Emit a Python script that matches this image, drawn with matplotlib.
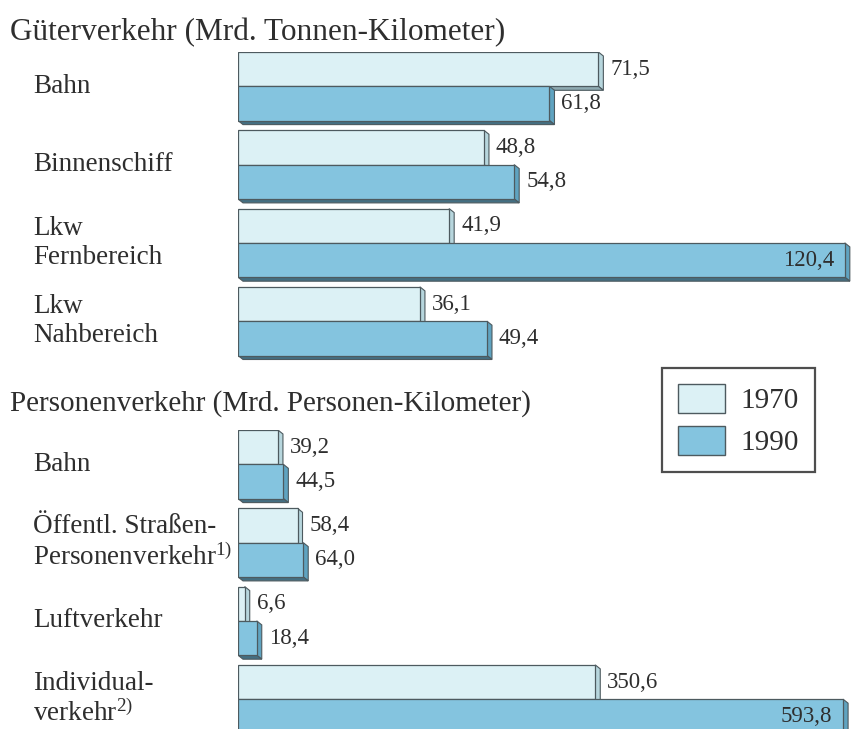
import matplotlib
matplotlib.use('Agg')
import matplotlib.pyplot as plt
from matplotlib.patches import Polygon, Patch

plt.rcParams['font.family'] = ['Liberation Serif', 'DejaVu Serif']
plt.rcParams['mathtext.fontset'] = 'custom'
plt.rcParams['mathtext.rm'] = 'Liberation Serif'
plt.rcParams['mathtext.it'] = 'Liberation Serif:italic'

# ---------------- data ----------------
years = ['1970', '1990']

freight_title = 'Güterverkehr (Mrd. Tonnen-Kilometer)'
freight_cats = ['Bahn', 'Binnenschiff', 'Lkw\nFernbereich', 'Lkw\nNahbereich']
freight_1970 = [71.5, 48.8, 41.9, 36.1]
freight_1990 = [61.8, 54.8, 120.4, 49.4]

pass_title = 'Personenverkehr (Mrd. Personen-Kilometer)'
pass_cats = ['Bahn', 'Öffentl. Straßen-\nPersonenverkehr$^{1)}$', 'Luftverkehr',
             'Individual-\nverkehr$^{2)}$']
pass_1970 = [39.2, 58.4, 6.6, 350.6]
pass_1990 = [44.5, 64.0, 18.4, 593.8]

# ---------------- style ----------------
W, H = 851, 729
TXT = '#2e2e2e'
EDGE = '#4d5a5f'
FRONT = ['#dcf1f5', '#84c4df']
SIDE = ['#b7d6dd', '#5fa3c0']
BOTTOM = ['#8eaab1', '#446f82']
DEPTH_X, DEPTH_Y = 5.0, 4.0     # px
BAR_PX = 34.3
GROUP = 78.3 / 34.3

fig = plt.figure(figsize=(W / 100, H / 100), dpi=100)
fig.patch.set_facecolor('white')


def make_axes(top_px, bottom_px, px_per_unit):
    ax = fig.add_axes([238 / W, 1 - bottom_px / H, (W - 238) / W, (bottom_px - top_px) / H])
    ax.set_xlim(0, (W - 238) / px_per_unit)
    ax.set_ylim((bottom_px - top_px) / BAR_PX, 0)
    ax.axis('off')
    return ax, 1.0 / px_per_unit, 1.0 / BAR_PX


def draw_section(ax, sx, sy, cats, v70, v90, fs_val):
    for i, cat in enumerate(cats):
        base = i * GROUP
        for k, vals in enumerate([v70, v90]):
            v = vals[i]
            y0 = base + k
            y1 = y0 + 1
            dx, dy = DEPTH_X * sx, DEPTH_Y * sy
            z = 2 + 2 * i + k
            side = Polygon([(v, y0), (v + dx, y0 + dy), (v + dx, y1 + dy), (v, y1)],
                           closed=True, facecolor=SIDE[k], edgecolor=EDGE, lw=0.8, zorder=z)
            bottom = Polygon([(0, y1), (v, y1), (v + dx, y1 + dy), (dx, y1 + dy)],
                             closed=True, facecolor=BOTTOM[k], edgecolor=EDGE, lw=0.8, zorder=z)
            ax.add_patch(side)
            ax.add_patch(bottom)
            ax.barh(y0 + 0.5, v, height=1.0, left=0, color=FRONT[k], edgecolor=EDGE,
                    lw=0.9, zorder=z + 0.5)
            label = f'{v:.1f}'.replace('.', ',')
            xmax = ax.get_xlim()[1]
            if v > 0.9 * xmax:
                ax.annotate(label, (v, y0 + 0.5), xytext=(-11 * 0.72, 0),
                            textcoords='offset points', ha='right', va='center',
                            fontsize=fs_val, color=TXT, zorder=20)
            else:
                ax.annotate(label, (v, y0 + 0.5), xytext=(12 * 0.72, 0),
                            textcoords='offset points', ha='left', va='center',
                            fontsize=fs_val, color=TXT, zorder=20)


# freight
ax1, sx1, sy1 = make_axes(52, 365, 5.04)
draw_section(ax1, sx1, sy1, freight_cats, freight_1970, freight_1990, 16.5)
# passenger
ax2, sx2, sy2 = make_axes(430, H, 1.019)
draw_section(ax2, sx2, sy2, pass_cats, pass_1970, pass_1990, 16.5)

# titles
fig.text(10 / W, 1 - 33 / H, freight_title, fontsize=22.5, color=TXT, ha='left', va='center')
fig.text(10 / W, 1 - 404 / H, pass_title, fontsize=21, color=TXT, ha='left', va='center')

# category labels
def cat_labels(ax, cats):
    for i, cat in enumerate(cats):
        yc = i * GROUP + 1.0
        ax.text(-(238 - 33) / (W - 238) * ax.get_xlim()[1], yc, cat, fontsize=19.5, color=TXT,
                ha='left', va='center', linespacing=1.2, clip_on=False)

cat_labels(ax1, freight_cats)
cat_labels(ax2, pass_cats)

# legend
handles = [Patch(facecolor=FRONT[0], edgecolor=EDGE, lw=1.0),
           Patch(facecolor=FRONT[1], edgecolor=EDGE, lw=1.0)]
leg = fig.legend(handles, years, loc='upper left', bbox_to_anchor=(662 / W, 1 - 368 / H),
                 fontsize=21, frameon=True, fancybox=False, handlelength=1.6, handleheight=1.15,
                 labelspacing=0.4, handletextpad=0.55, borderpad=0.55, borderaxespad=0)
leg.get_frame().set_edgecolor('#222222')
leg.get_frame().set_linewidth(1.6)
for t in leg.get_texts():
    t.set_color(TXT)

fig.savefig('out.png', dpi=100, facecolor='white')
